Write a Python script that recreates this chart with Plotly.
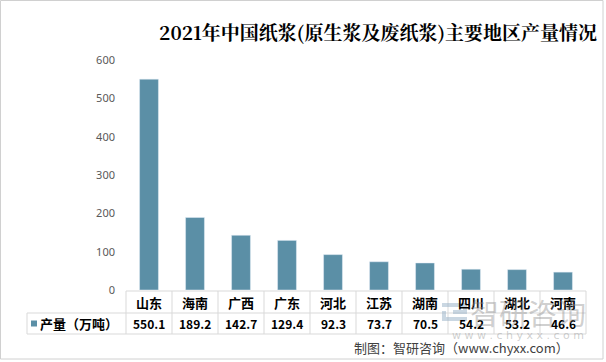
import plotly.graph_objects as go

categories = ["山东", "海南", "广西", "广东", "河北", "江苏", "湖南", "四川", "湖北", "河南"]
values = [550.1, 189.2, 142.7, 129.4, 92.3, 73.7, 70.5, 54.2, 53.2, 46.6]
value_labels = ["550.1", "189.2", "142.7", "129.4", "92.3", "73.7", "70.5", "54.2", "53.2", "46.6"]
series_name = "产量（万吨）"
title_text = "2021年中国纸浆(原生浆及废纸浆)主要地区产量情况"
source_text = "制图：智研咨询（www.chyxx.com）"
y_ticks = [0, 100, 200, 300, 400, 500, 600]

W, H = 606, 362
L, R, T, B = 126, 20, 60, 72
PW, PH = W - L - R, H - T - B
BAR = "#5B8FA6"
GRID = "#D9D9D9"
CJK = "Noto Sans CJK SC, Microsoft YaHei, sans-serif"
WM = "rgba(140,140,140,0.42)"


def px(X):
    return (X - L) / PW


def py(Y):
    return (H - B - Y) / PH


fig = go.Figure(go.Bar(x=categories, y=values, marker_color=BAR, width=0.41,
                       name=series_name, showlegend=False))

shapes = []
shapes.append(dict(type="line", xref="paper", yref="paper", x0=px(126), x1=px(586), y0=py(291), y1=py(291), line=dict(color=GRID, width=1)))
for Y in (313, 334):
    shapes.append(dict(type="line", xref="paper", yref="paper", x0=px(27), x1=px(586), y0=py(Y), y1=py(Y), line=dict(color=GRID, width=1)))
for k in range(len(categories) + 1):
    X = 126 + 46 * k
    shapes.append(dict(type="line", xref="paper", yref="paper", x0=px(X), x1=px(X), y0=py(291), y1=py(334), line=dict(color=GRID, width=1)))
shapes.append(dict(type="line", xref="paper", yref="paper", x0=px(27), x1=px(27), y0=py(313), y1=py(334), line=dict(color=GRID, width=1)))
shapes.append(dict(type="rect", xref="paper", yref="paper", x0=px(31), x1=px(37), y0=py(320.5), y1=py(326.5), fillcolor=BAR, line=dict(width=0)))
shapes.append(dict(type="rect", xref="paper", yref="paper", x0=px(0.5), x1=px(603), y0=py(359), y1=py(0.5), line=dict(color="#D0D0D0", width=1)))


def wm_path(pts):
    return "M " + " L ".join("%f,%f" % (px(a), py(b)) for a, b in pts)


shapes.append(dict(type="path", xref="paper", yref="paper",
                   path=wm_path([(442, 305), (465, 305), (465, 312), (453, 312)]),
                   line=dict(color="rgba(150,175,198,0.5)", width=4)))
shapes.append(dict(type="path", xref="paper", yref="paper",
                   path=wm_path([(444, 311), (444, 319), (467, 319)]),
                   line=dict(color="rgba(150,175,198,0.5)", width=4)))

annotations = []
for c, v in zip(categories, value_labels):
    annotations.append(dict(x=c, xref="x", y=py(302), yref="paper", text="<b>%s</b>" % c, showarrow=False,
                            font=dict(family=CJK, size=13, color="#000000"), xanchor="center", yanchor="middle"))
    annotations.append(dict(x=c, xref="x", y=py(323.5), yref="paper", text="<b>%s</b>" % v, showarrow=False,
                            font=dict(family=CJK, size=12, color="#000000"), xanchor="center", yanchor="middle"))
annotations.append(dict(x=px(38), xref="paper", y=py(323.5), yref="paper", text="<b>%s</b>" % series_name, showarrow=False,
                        font=dict(family=CJK, size=13, color="#000000"), xanchor="left", yanchor="middle"))
annotations.append(dict(x=px(588), xref="paper", y=py(312), yref="paper", text="智研咨询", showarrow=False,
                        font=dict(family=CJK, size=29, color=WM), xanchor="right", yanchor="middle"))
annotations.append(dict(x=px(586), xref="paper", y=py(335), yref="paper", text="w w w . c h y x x . c o m", showarrow=False,
                        font=dict(family="DejaVu Sans, sans-serif", size=11, color=WM), xanchor="right", yanchor="middle"))
annotations.append(dict(x=px(571), xref="paper", y=py(347), yref="paper", text=source_text, showarrow=False,
                        font=dict(family=CJK, size=13, color="#404040"), xanchor="right", yanchor="middle"))

fig.update_layout(
    width=W, height=H,
    margin=dict(l=L, r=R, t=T, b=B),
    paper_bgcolor="white", plot_bgcolor="white",
    title=dict(text="<b>%s</b>" % title_text, x=597 / W, xanchor="right", xref="container",
               y=1 - 33 / H, yanchor="middle", yref="container",
               font=dict(family="Noto Serif CJK SC, Liberation Serif, Noto Sans CJK SC, serif", size=19, color="#000000")),
    xaxis=dict(showticklabels=False, showline=False, showgrid=False, ticks="", range=[-0.5, len(categories) - 0.5]),
    yaxis=dict(range=[0, 600], tickvals=y_ticks, showgrid=False, showline=False, zeroline=False,
               tickfont=dict(family="Noto Sans, Liberation Sans, sans-serif", size=11, color="#595959"), ticklabelstandoff=10),
    shapes=shapes, annotations=annotations,
)

fig.write_html("out.html", config={"displayModeBar": False},
               post_script="document.body.style.margin='0';document.body.style.overflow='hidden';")
